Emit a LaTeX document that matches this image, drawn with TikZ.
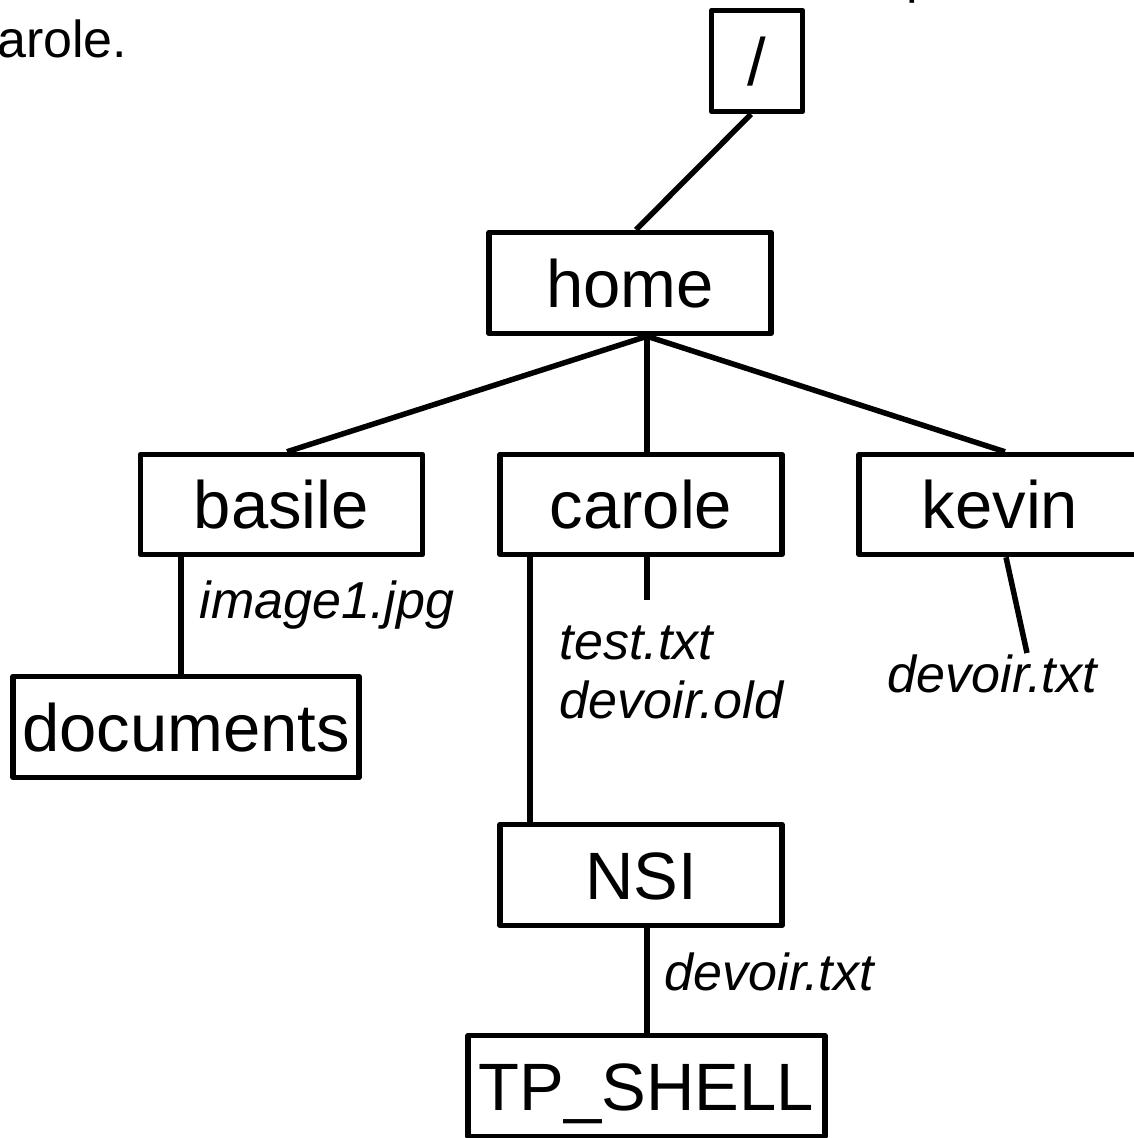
\documentclass[tikz,border=0pt]{standalone}
\usepackage{fontspec}
\setmainfont{Liberation Sans}
\begin{document}
\begin{tikzpicture}[x=1pt,y=-1pt, line width=5.5pt, line join=round,
  dir/.style={draw, rectangle, inner sep=0pt, font=\fontsize{67}{80}\selectfont, text height=48.5pt, text depth=0pt},
  lbl/.style={font=\fontsize{52}{59}\selectfont\itshape, inner sep=0pt, anchor=base west},
  body/.style={font=\fontsize{52}{59}\selectfont, inner sep=0pt}]
\useasboundingbox (0,0) rectangle (1133,1138);
\node[body, anchor=base east] (intro) at (130,57) {carole.};
\node[body, anchor=base west] (ptail) at (904,-8) {p};
\node[dir, minimum width=91pt, minimum height=101pt] (root) at (757,61) {/};
\node[dir, minimum width=282pt, minimum height=101pt] (home) at (630,283) {home};
\node[dir, minimum width=282pt, minimum height=100pt] (basile) at (281.5,504.5) {basile};
\node[dir, minimum width=282pt, minimum height=100pt] (carole) at (641,504.5) {carole};
\node[dir, minimum width=282pt, minimum height=100pt] (kevin) at (1000,504.5) {kevin};
\node[dir, minimum width=346pt, minimum height=101pt] (documents) at (186,727) {documents};
\node[dir, minimum width=282pt, minimum height=101pt] (nsi) at (641,875) {NSI};
\node[dir, minimum width=357pt, minimum height=101pt] (tp) at (646.5,1086) {TP\_SHELL};
\coordinate (cstub) at (647,600);
\coordinate (kend) at (1027,653);
\draw ([xshift=-6pt]root.south) -- ([xshift=6pt]home.north);
\draw ([xshift=17pt]home.south) -- ([xshift=5.5pt]basile.north);
\draw ([xshift=17pt]home.south) -- ([xshift=6pt]carole.north);
\draw ([xshift=17pt]home.south) -- ([xshift=5pt]kevin.north);
\draw ([xshift=-100.5pt]basile.south) -- ([xshift=-5pt]documents.north);
\draw ([xshift=6pt]carole.south) -- (cstub);
\draw ([xshift=-111pt]carole.south) -- ([xshift=-111pt]nsi.north);
\draw ([xshift=6pt]nsi.south) -- ([xshift=0.5pt]tp.north);
\draw ([xshift=6pt]kevin.south) -- (kend);
\node[lbl] (limg) at (197,618) {image1.jpg};
\node[lbl] (ltest) at (557,659) {test.txt};
\node[lbl] (lold) at (557,718) {devoir.old};
\node[lbl] (lkev) at (885,692) {devoir.txt};
\node[lbl] (lnsi) at (662,990) {devoir.txt};
\end{tikzpicture}
\end{document}
